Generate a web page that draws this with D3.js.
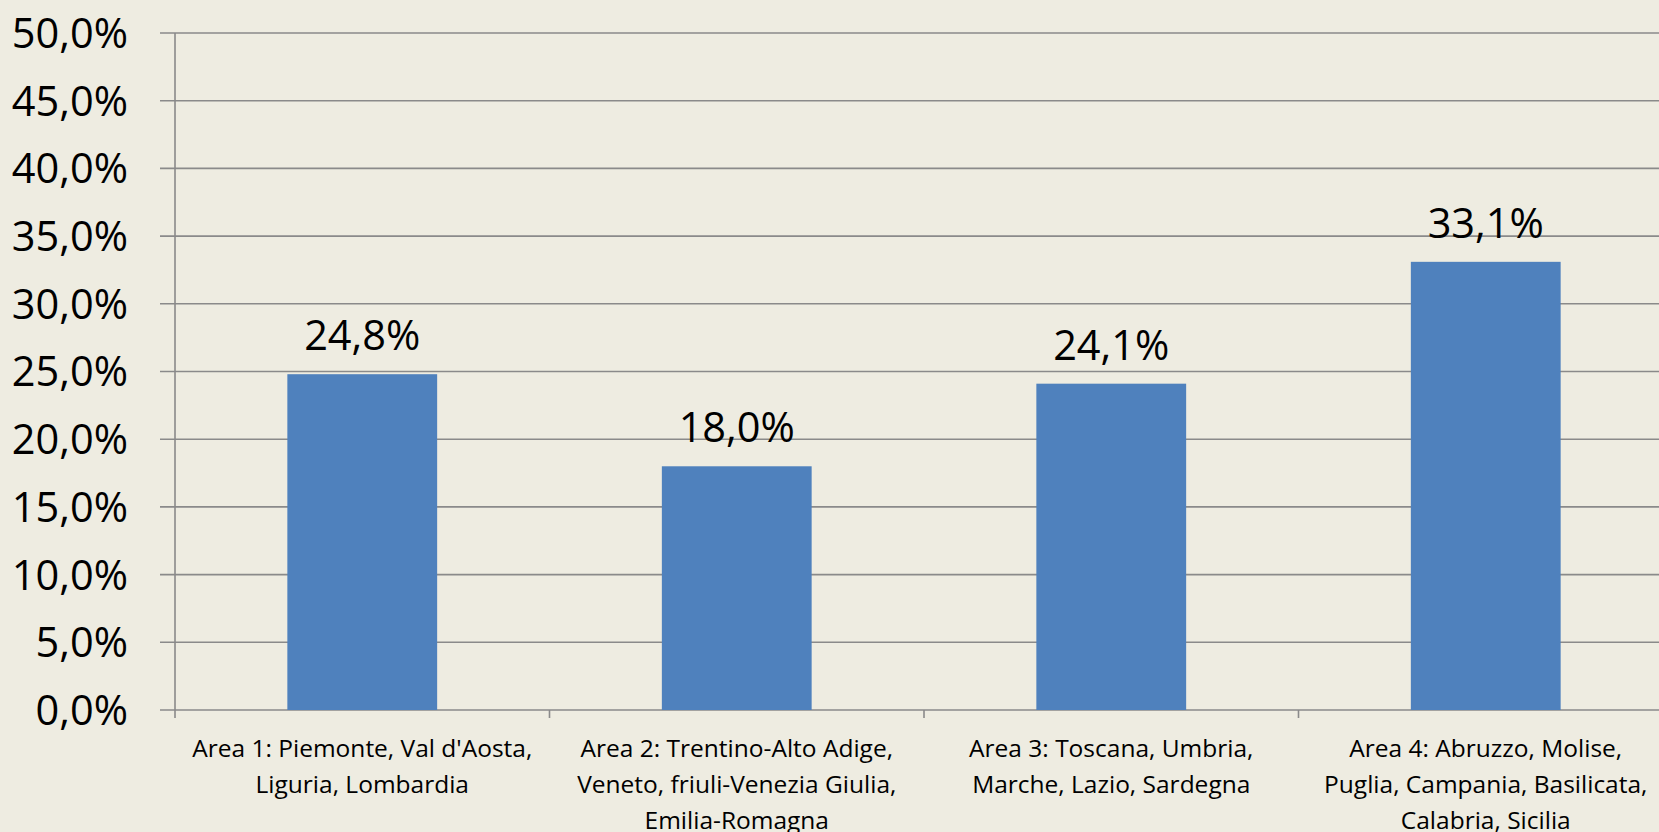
<!DOCTYPE html>
<html>
<head>
<meta charset="utf-8">
<script src="https://cdn.jsdelivr.net/npm/d3@7"></script>
<style>
  html, body { margin: 0; padding: 0; background: #EEECE1; overflow: hidden; }
  svg { display: block; }
  text { font-family: "Open Sans", sans-serif; fill: #000; }
</style>
</head>
<body>
<script>
// chart data
var categories = ["Area 1", "Area 2", "Area 3", "Area 4"];
var categoryLines = [
  ["Area 1: Piemonte, Val d'Aosta,", "Liguria, Lombardia"],
  ["Area 2: Trentino-Alto Adige,", "Veneto, friuli-Venezia Giulia,", "Emilia-Romagna"],
  ["Area 3: Toscana, Umbria,", "Marche, Lazio, Sardegna"],
  ["Area 4: Abruzzo, Molise,", "Puglia, Campania, Basilicata,", "Calabria, Sicilia"]
];
var values = [0.248, 0.180, 0.241, 0.331];
var yTicks = [0, 0.05, 0.10, 0.15, 0.20, 0.25, 0.30, 0.35, 0.40, 0.45, 0.50];

var width = 1659, height = 832;
var plotLeft = 175, plotBottom = 710, plotTop = 33;

var it = d3.formatLocale({ decimal: ",", thousands: ".", grouping: [3], currency: ["", "€"] });
var pct = it.format(".1%");

var svg = d3.select("body").append("svg")
  .attr("width", width)
  .attr("height", height);

var x = d3.scaleBand()
  .domain(categories)
  .range([plotLeft, plotLeft + 4 * 374.5])
  .paddingInner(0.6)
  .paddingOuter(0.3);

var y = d3.scaleLinear()
  .domain([0, 0.5])
  .range([plotBottom, plotTop]);

// gridlines + y ticks
svg.selectAll("line.grid")
  .data(yTicks)
  .enter()
  .append("line")
  .attr("class", "grid")
  .attr("x1", plotLeft - 15)
  .attr("x2", width)
  .attr("y1", function (d) { return y(d); })
  .attr("y2", function (d) { return y(d); })
  .attr("stroke", "#8a8a8a")
  .attr("stroke-width", 1.6);

svg.selectAll("text.ytick")
  .data(yTicks)
  .enter()
  .append("text")
  .attr("class", "ytick")
  .attr("x", 128)
  .attr("y", function (d) { return y(d); })
  .attr("dy", "0.36em")
  .attr("text-anchor", "end")
  .attr("font-size", 41.5)
  .text(function (d) { return pct(d); });

// y axis line
svg.append("line")
  .attr("x1", plotLeft).attr("x2", plotLeft)
  .attr("y1", plotTop).attr("y2", plotBottom + 8)
  .attr("stroke", "#8a8a8a")
  .attr("stroke-width", 1.6);

// category tick marks at band boundaries
var step = x.step();
svg.selectAll("line.xtick")
  .data(categories.slice(1))
  .enter()
  .append("line")
  .attr("class", "xtick")
  .attr("x1", function (d) { return x(d) - step * 0.3; })
  .attr("x2", function (d) { return x(d) - step * 0.3; })
  .attr("y1", plotBottom)
  .attr("y2", plotBottom + 8)
  .attr("stroke", "#8a8a8a")
  .attr("stroke-width", 1.6);

// bars
svg.selectAll("rect.bar")
  .data(values)
  .enter()
  .append("rect")
  .attr("class", "bar")
  .attr("x", function (d, i) { return x(categories[i]); })
  .attr("y", function (d) { return y(d); })
  .attr("width", x.bandwidth())
  .attr("height", function (d) { return plotBottom - y(d); })
  .attr("fill", "#4F81BD");

// value labels
svg.selectAll("text.val")
  .data(values)
  .enter()
  .append("text")
  .attr("class", "val")
  .attr("x", function (d, i) { return x(categories[i]) + x.bandwidth() / 2; })
  .attr("y", function (d) { return y(d) - 24; })
  .attr("text-anchor", "middle")
  .attr("font-size", 41.5)
  .text(function (d) { return pct(d); });

// category labels
var cat = svg.selectAll("text.cat")
  .data(categoryLines)
  .enter()
  .append("text")
  .attr("class", "cat")
  .attr("text-anchor", "middle")
  .attr("font-size", 24.5)
  .attr("transform", function (d, i) {
    return "translate(" + (x(categories[i]) + x.bandwidth() / 2) + "," + 757 + ")";
  });

cat.selectAll("tspan")
  .data(function (d) { return d; })
  .enter()
  .append("tspan")
  .attr("x", 0)
  .attr("y", function (d, j) { return j * 36; })
  .text(function (d) { return d; });
</script>
</body>
</html>
